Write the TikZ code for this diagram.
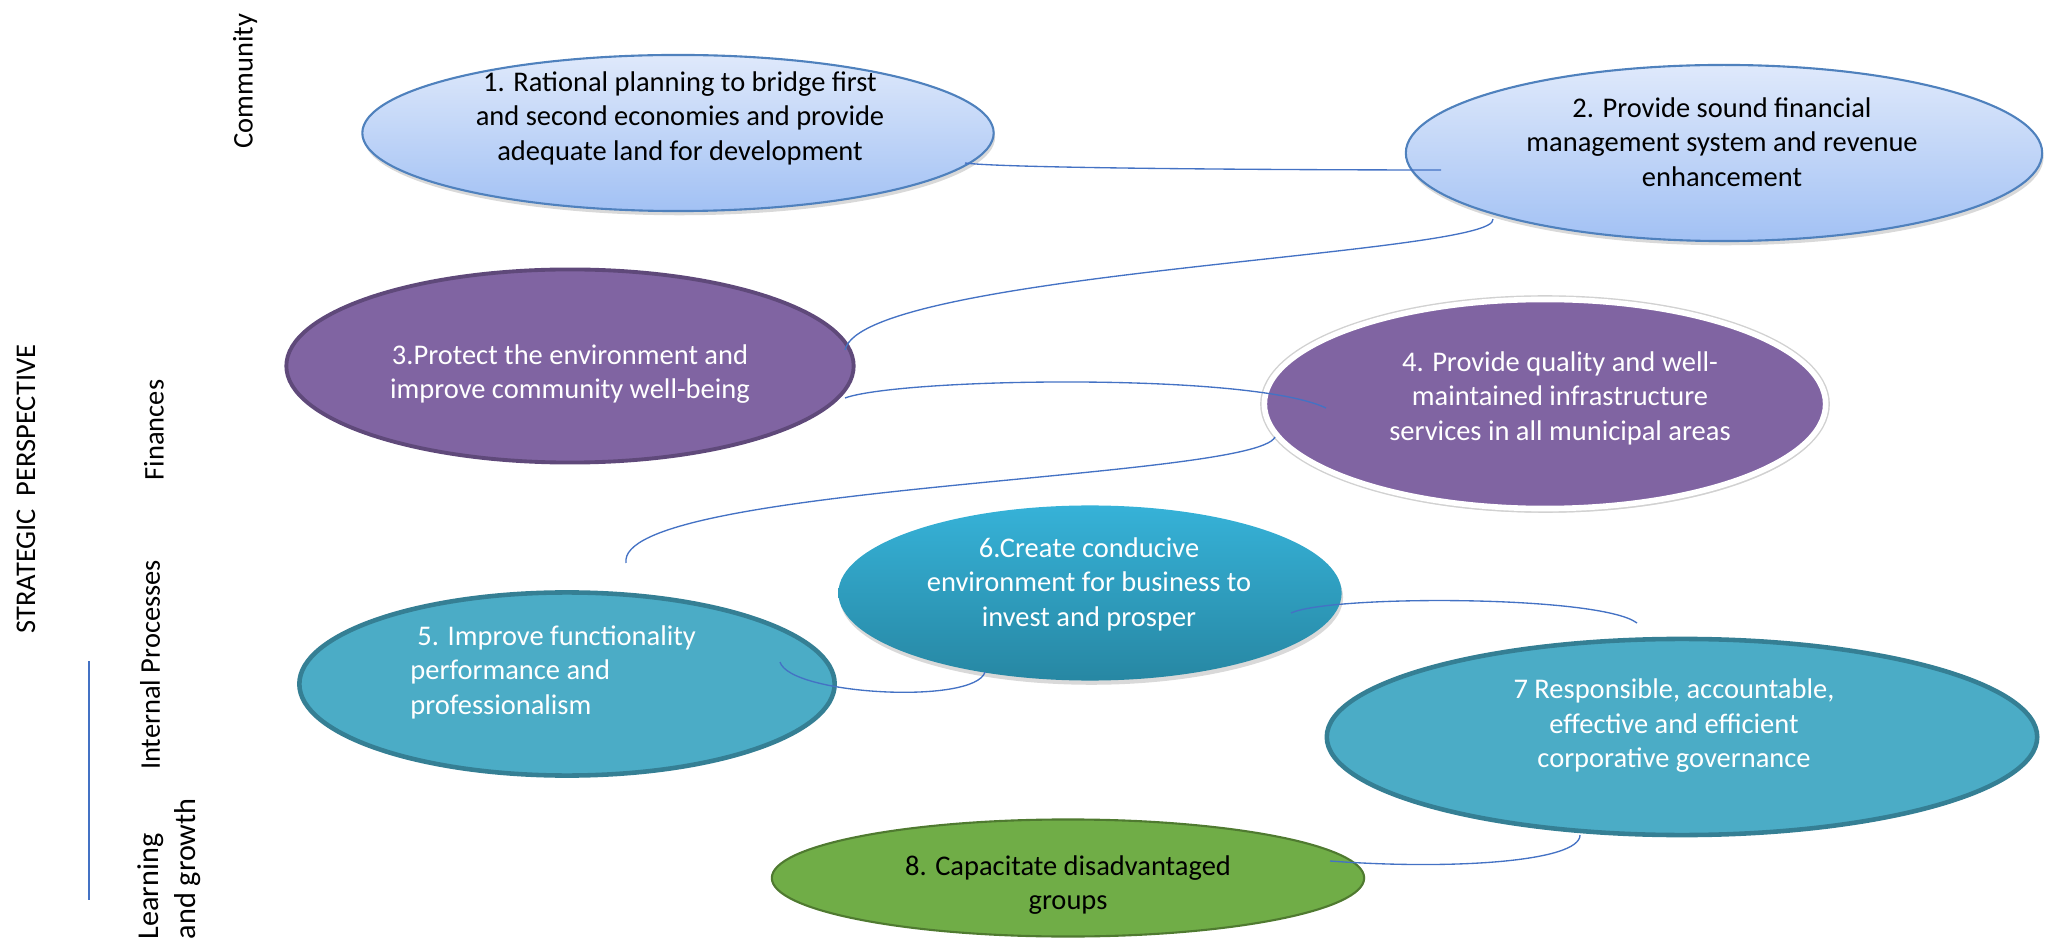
\documentclass[tikz,border=0pt]{standalone}
\usepackage{fontspec}
\setmainfont{Carlito}
\usetikzlibrary{shapes.geometric,shadows,calc}
\definecolor{linkblue}{HTML}{4472C4}
\definecolor{skytop}{HTML}{DFE9FB}
\definecolor{skybot}{HTML}{A2C1F4}
\definecolor{skyrim}{HTML}{4F81BD}
\definecolor{plum}{HTML}{8064A2}
\definecolor{plumrim}{HTML}{5F497A}
\definecolor{seafill}{HTML}{4BACC6}
\definecolor{searim}{HTML}{357F94}
\definecolor{seatop}{HTML}{36B2D8}
\definecolor{seabot}{HTML}{2787A3}
\definecolor{leaf}{HTML}{70AD47}
\definecolor{leafrim}{HTML}{4F7A30}
\tikzset{
  goal/.style={ellipse, inner sep=0pt},
  soft/.style={drop shadow={shadow xshift=0.4pt, shadow yshift=-1.2pt, opacity=0.3}},
  sky/.style={goal, soft, draw=skyrim, line width=0.6pt, top color=skytop, bottom color=skybot},
  plumA/.style={goal, fill=plum, draw=plumrim, line width=1.1pt},
  plumB/.style={goal, soft, fill=plum, draw=white, line width=1.6pt,
    preaction={draw=black!18, line width=2.4pt}},
  seaA/.style={goal, fill=seafill, draw=searim, line width=1.3pt},
  seaB/.style={goal, soft, top color=seatop, bottom color=seabot},
  leafy/.style={goal, fill=leaf, draw=leafrim, line width=0.6pt},
  txtk/.style={align=center, text=black},
  txtw/.style={align=center, text=white},
  side/.style={rotate=90, text=black},
  link/.style={draw=linkblue, line width=0.38pt}
}

\begin{document}
\begin{tikzpicture}[x=0.01cm, y=-0.01cm, font=\fontsize{8.1}{9.8}\selectfont]
  \useasboundingbox (0,0) rectangle (2045,952);

  % perspective labels
  \node[side] (persp) at (26,489) {STRATEGIC\ \ PERSPECTIVE};
  \node[side] (comm) at (245,81) {Community};
  \node[side] (fin) at (154,430) {Finances};
  \node[side] (intp) at (150,665) {Internal Processes};
  \node[side, align=left, anchor=north west, inner sep=0pt,
        font=\fontsize{8.6}{10.4}\selectfont] (learn) at (137,940) {Learning\\and growth};
  \coordinate (barT) at (89,661);
  \coordinate (barB) at (89,900);
  \draw[link, line width=0.5pt] (barT) -- (barB);

  % objectives
  \node[sky, minimum width=6.31cm, minimum height=1.56cm] (g1) at (678,133) {};
  \node[sky, minimum width=6.36cm, minimum height=1.76cm] (g2) at (1724,153) {};
  \node[plumA, minimum width=5.67cm, minimum height=1.93cm] (g3) at (570,366) {};
  \node[plumB, minimum width=5.61cm, minimum height=2.09cm] (g4) at (1545,404) {};
  \node[seaA, minimum width=5.35cm, minimum height=1.83cm] (g5) at (567,684) {};
  \node[seaB, minimum width=5.03cm, minimum height=1.75cm] (g6) at (1090,593) {};
  \node[seaA, minimum width=7.10cm, minimum height=1.96cm] (g7) at (1682,737) {};
  \node[leafy, minimum width=5.92cm, minimum height=1.17cm] (g8) at (1068,878) {};

  \node[txtk] (t1) at (680,118) {1. Rational planning to bridge first\\and second economies and provide\\adequate land for development};
  \node[txtk] (t2) at (1722,142) {2. Provide sound financial\\management system and revenue\\enhancement};
  \node[txtw] (t3) at (570,374) {3.Protect the environment and\\improve community well-being};
  \node[txtw] (t4) at (1560,398) {4. Provide quality and well-\\maintained infrastructure\\services in all municipal areas};
  \node[txtw, align=left, anchor=west] (t5) at (398,672) {\hspace{2pt}5. Improve functionality\\performance and\\professionalism};
  \node[txtw] (t6) at (1089,584) {6.Create conducive\\environment for business to\\invest and prosper};
  \node[txtw] (t7) at (1674,726) {7 Responsible, accountable,\\effective and efficient\\corporative governance};
  \node[txtk] (t8) at (1068,885) {8. Capacitate disadvantaged\\groups};

  % links
  \draw[link] ($(g1)+(287,30)$) .. controls (1010,169) and (1350,170) .. ($(g2)+(-283,17)$);
  \draw[link] ($(g3)+(275,-16)$) .. controls (862,272) and (1500,255) .. ($(g2)+(-231,66)$);
  \draw[link] ($(g3)+(275,32)$) .. controls (900,378) and (1250,372) .. ($(g4)+(-219,4)$);
  \draw[link] ($(g4)+(-270,33)$) .. controls (1255,480) and (615,485) .. ($(g5)+(59,-121)$);
  \draw[link] ($(g5)+(213,-22)$) .. controls (790,695) and (975,705) .. ($(g6)+(-105,79)$);
  \draw[link] ($(g6)+(201,20)$) .. controls (1330,595) and (1600,595) .. ($(g7)+(-45,-114)$);
  \draw[link] ($(g7)+(-102,98)$) .. controls (1580,862) and (1450,870) .. ($(g8)+(262,-17)$);
\end{tikzpicture}
\end{document}
